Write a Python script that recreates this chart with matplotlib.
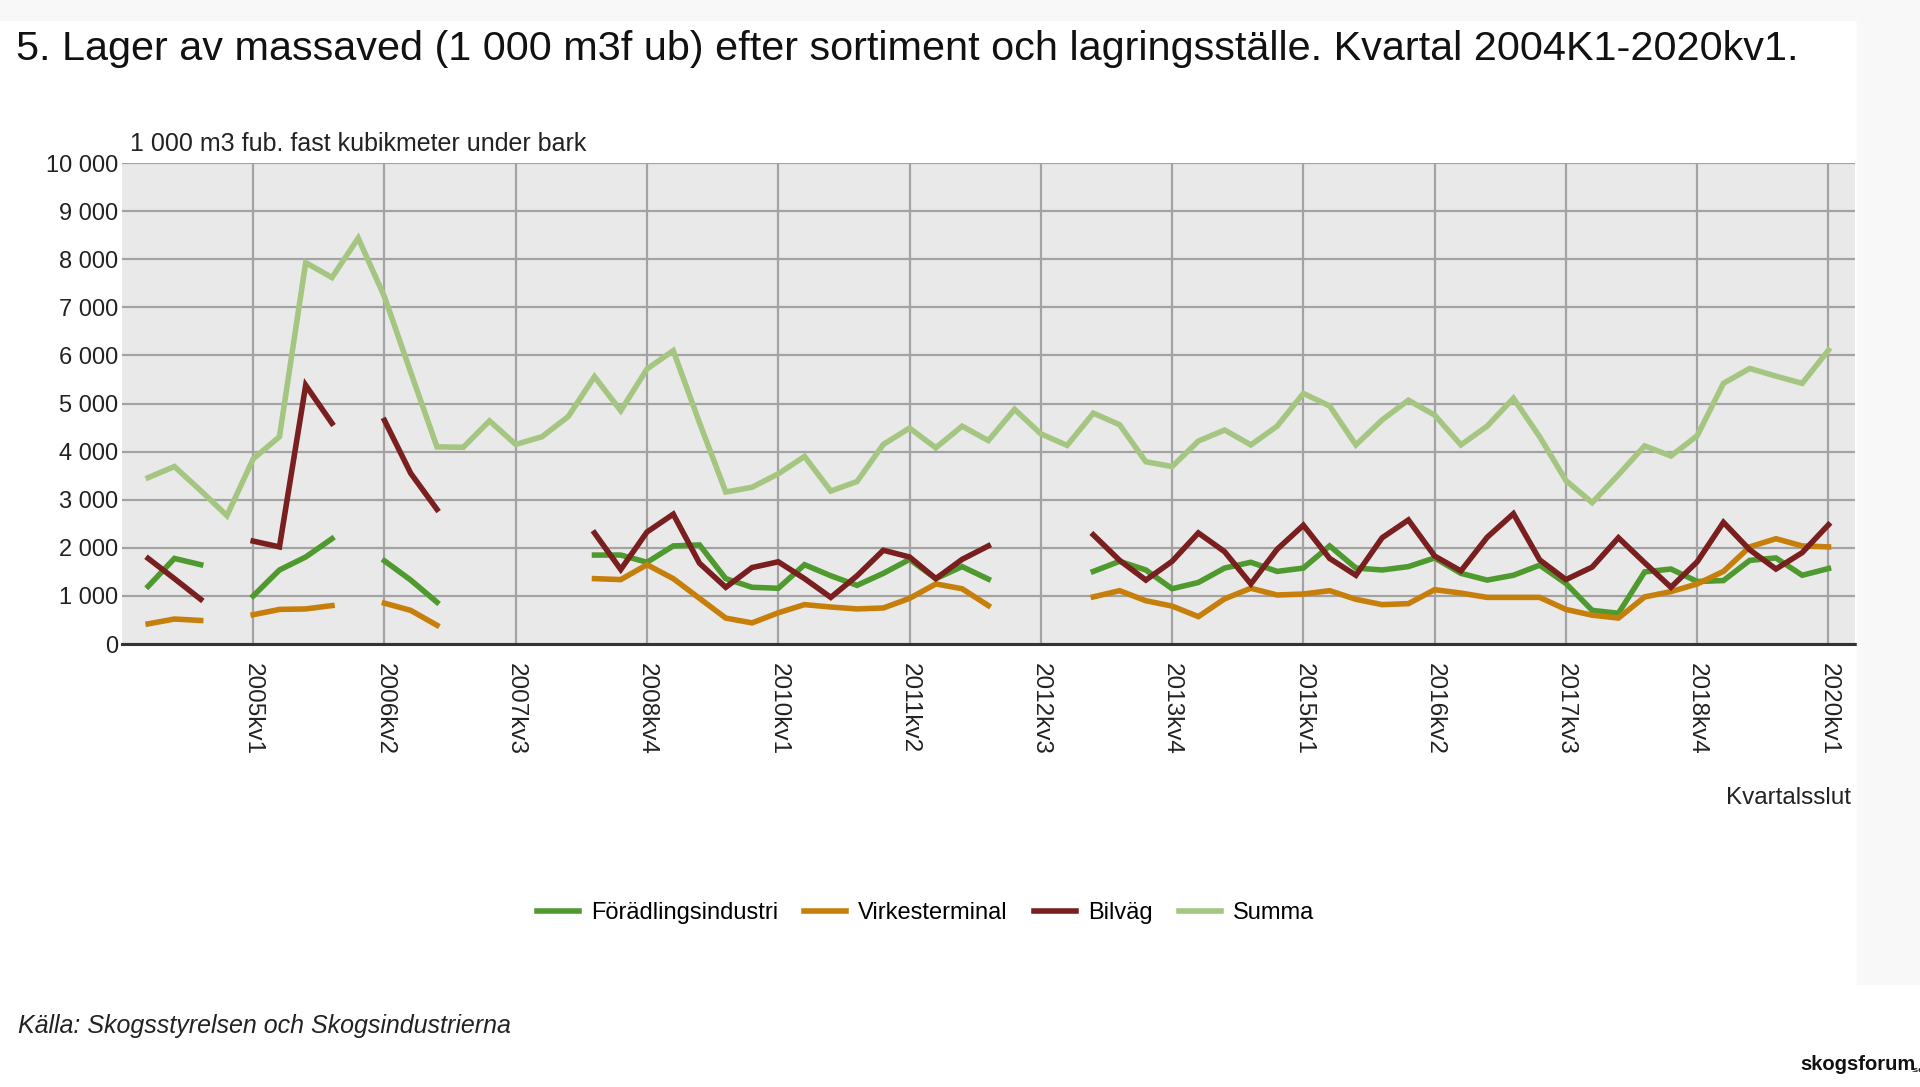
import numpy as np
import matplotlib
matplotlib.use("Agg")
import matplotlib.pyplot as plt
from matplotlib.ticker import FuncFormatter, MultipleLocator

plt.rcParams["font.family"] = ["Liberation Sans", "DejaVu Sans"]

nan = np.nan

# Quarters 2004K1 .. 2020kv1 (65 quarters)
quarters = [f"{2004 + i // 4}kv{i % 4 + 1}" for i in range(65)]

# 1 000 m3fub (nan = no value published)
foradling = [
    1200, 1780, 1650, nan, 1000, 1540, 1810, 2190, nan, 1730,
    1330, 870, nan, nan, nan, nan, nan, 1850, 1850, 1700,
    2040, 2060, 1360, 1180, 1160, 1650, 1420, 1220, 1470, 1760,
    1360, 1610, 1350, nan, nan, nan, 1510, 1720, 1540, 1150,
    1280, 1580, 1700, 1510, 1580, 2040, 1580, 1540, 1610, 1790,
    1470, 1330, 1430, 1640, 1260, 700, 640, 1500, 1560, 1300,
    1320, 1740, 1790, 1430, 1570,
]
virkesterminal = [
    420, 520, 490, nan, 610, 720, 730, 800, nan, 850,
    700, 390, nan, nan, nan, nan, nan, 1360, 1340, 1650,
    1360, 950, 540, 440, 650, 820, 770, 730, 750, 950,
    1250, 1150, 800, nan, nan, nan, 980, 1110, 900, 790,
    570, 940, 1160, 1020, 1040, 1110, 930, 820, 840, 1130,
    1060, 970, 970, 970, 720, 600, 540, 980, 1090, 1250,
    1510, 2020, 2190, 2040, 2020,
]
bilvag = [
    1780, 1360, 930, nan, 2140, 2020, 5380, 4590, nan, 4650,
    3550, 2800, nan, nan, nan, nan, nan, 2310, 1550, 2330,
    2700, 1680, 1180, 1590, 1710, 1360, 970, 1420, 1950, 1810,
    1360, 1760, 2040, nan, nan, nan, 2270, 1740, 1330, 1720,
    2310, 1920, 1250, 1970, 2470, 1780, 1430, 2210, 2580, 1830,
    1520, 2220, 2710, 1750, 1340, 1600, 2210, 1690, 1180, 1710,
    2530, 1960, 1560, 1900, 2480,
]
summa = [
    3460, 3690, 3190, 2670, 3850, 4310, 7930, 7620, 8440, 7220,
    5650, 4100, 4090, 4640, 4150, 4310, 4730, 5560, 4850, 5720,
    6100, 4600, 3160, 3260, 3540, 3900, 3180, 3380, 4150, 4490,
    4080, 4530, 4230, 4880, 4370, 4130, 4800, 4560, 3790, 3690,
    4220, 4450, 4140, 4530, 5210, 4950, 4140, 4660, 5070, 4760,
    4140, 4530, 5110, 4310, 3400, 2940, 3520, 4120, 3910, 4330,
    5420, 5730, 5570, 5420, 6110,
]

series = [
    ("Förädlingsindustri", foradling, "#4f9a2f"),
    ("Virkesterminal", virkesterminal, "#c77f0c"),
    ("Bilväg", bilvag, "#7a1f1f"),
    ("Summa", summa, "#a4c681"),
]

fig = plt.figure(figsize=(19.2, 10.87), dpi=100)
fig.patch.set_facecolor("white")
# faint screenshot border (top strip and right strip)
fig.patches.append(plt.Rectangle((0, 0.982), 1, 0.018, transform=fig.transFigure,
                                 color="#f8f8f8", zorder=0))
fig.patches.append(plt.Rectangle((0.967, 0.095), 0.033, 0.905, transform=fig.transFigure,
                                 color="#f8f8f8", zorder=0))

ax = fig.add_axes([0.0635, 0.4075, 0.9025, 0.4425])
ax.set_facecolor("#e9e9e9")

x = np.arange(len(quarters))
for name, vals, col in series:
    ax.plot(x, np.array(vals, dtype=float), color=col, linewidth=4.0,
            solid_joinstyle="miter", label=name, zorder=3)

ax.set_xlim(-1, 65)
ax.set_ylim(0, 10000)
ax.yaxis.set_major_locator(MultipleLocator(1000))
ax.yaxis.set_major_formatter(FuncFormatter(lambda v, p: f"{int(v):,}".replace(",", " ")))
ax.set_xticks(x[4::5])
ax.set_xticklabels(quarters[4::5], rotation=-90, va="top", ha="center")

ax.grid(True, color="#a3a3a3", linewidth=1.6, zorder=1)
ax.set_axisbelow(True)
for s in ("top", "right", "left"):
    ax.spines[s].set_visible(False)
ax.spines["bottom"].set_color("#333333")
ax.spines["bottom"].set_linewidth(2.2)
ax.tick_params(axis="both", length=0, labelsize=17, colors="#222222")
ax.tick_params(axis="x", labelsize=17.5, pad=14)
ax.tick_params(axis="y", pad=3)

fig.text(0.0083, 0.945, "5. Lager av massaved (1 000 m3f ub) efter sortiment och "
         "lagringsställe. Kvartal 2004K1-2020kv1.", fontsize=29.8, color="#111111",
         ha="left", va="baseline")
fig.text(0.0677, 0.861, "1 000 m3 fub. fast kubikmeter under bark", fontsize=18,
         color="#222222", ha="left", va="baseline")
fig.text(0.964, 0.266, "Kvartalsslut", fontsize=17.5, color="#222222",
         ha="right", va="center")

fig.legend(loc="center", bbox_to_anchor=(0.482, 0.160), ncol=4, frameon=False,
           fontsize=17, handlelength=1.8, handletextpad=0.5, columnspacing=1.1)

fig.text(0.0094, 0.056, "Källa: Skogsstyrelsen och Skogsindustrierna", fontsize=18,
         style="italic", color="#222222", ha="left", va="center")
fig.text(0.9375, 0.012, "skogsforum", fontsize=14.5, fontweight="bold",
         color="#111111", ha="left", va="bottom")
fig.text(0.9955, 0.012, ".se", fontsize=6, fontweight="bold",
         color="#111111", ha="left", va="bottom")

fig.savefig("out.png", dpi=100)
